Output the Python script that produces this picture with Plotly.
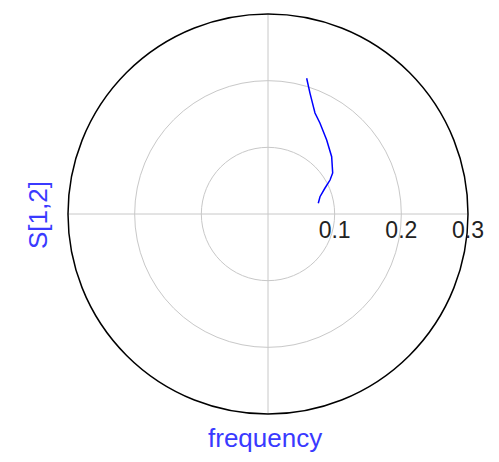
import plotly.graph_objects as go

# S[1,2] trace (magnitude, angle in degrees)
s12_mag = [0.0771, 0.0822, 0.0940, 0.1061, 0.1149, 0.1285, 0.1417, 0.1572, 0.1671, 0.1917, 0.2117]
s12_ang = [12.0, 18.4, 24.5, 28.7, 32.4, 42.0, 51.6, 60.3, 65.05, 70.8, 74.1]
radial_ticks = [0.1, 0.2, 0.3]
radial_labels = ["0.1", "0.2", "0.3"]

# page body has an 8px margin; figure is sized to fit the remaining viewport
OFF = 8
W, H = 499 - OFF, 462 - OFF
cx, cy, R = 268 - OFF, 214 - OFF, 200

fig = go.Figure()
fig.add_trace(go.Scatterpolar(
    r=s12_mag, theta=s12_ang, mode="lines",
    line=dict(color="#0000ff", width=1.5), showlegend=False,
))

fig.update_layout(
    width=W, height=H,
    margin=dict(l=0, r=0, t=0, b=0),
    paper_bgcolor="white",
    font=dict(family="Liberation Sans, Arial, sans-serif"),
    polar=dict(
        domain=dict(x=[(cx - R) / W, (cx + R) / W],
                    y=[(H - cy - R) / H, (H - cy + R) / H]),
        bgcolor="white",
        radialaxis=dict(
            range=[0, 0.3], tickvals=radial_ticks, ticktext=radial_labels,
            angle=0, side="clockwise", showline=False, ticks="",
            gridcolor="#c8c8c8", gridwidth=1,
            tickfont=dict(size=23, color="#222222"),
        ),
        angularaxis=dict(
            dtick=90, showticklabels=False, ticks="",
            gridcolor="#c8c8c8", gridwidth=1,
            showline=True, linecolor="black", linewidth=1.5,
            direction="counterclockwise", rotation=0,
        ),
    ),
    annotations=[
        dict(text="frequency", x=(265 - OFF) / W, y=1 - (438 - OFF) / H,
             xref="paper", yref="paper", xanchor="center", yanchor="middle",
             showarrow=False, font=dict(size=26, color="#3a3aff")),
        dict(text="S[1,2]", x=(38 - OFF) / W, y=1 - (215 - OFF) / H,
             xref="paper", yref="paper", xanchor="center", yanchor="middle",
             showarrow=False, textangle=-90, font=dict(size=26, color="#3a3aff")),
    ],
)

fig.write_html("out.html")
